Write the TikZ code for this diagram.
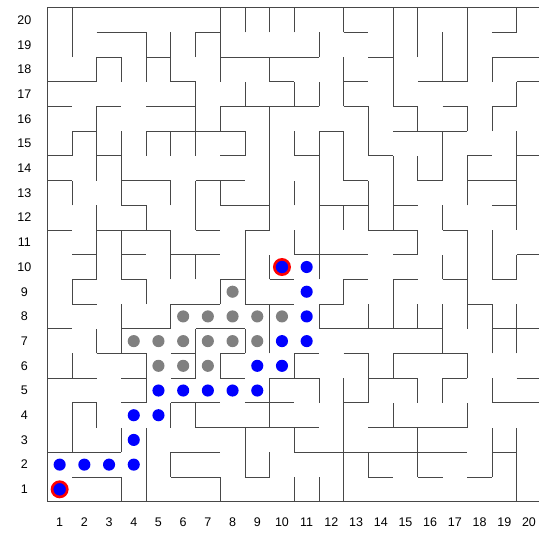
\documentclass[tikz,border=0pt]{standalone}
\usepackage{fontspec}
\setmainfont{Liberation Sans}
\begin{document}
\begin{tikzpicture}[x=24.7pt, y=24.7pt,
  wall/.style={black!72, line width=0.8pt},
  lbl/.style={font=\fontsize{12.5}{14}\selectfont, inner sep=0pt},
  path dot/.style={fill=blue},
  seen dot/.style={fill=gray}]
\useasboundingbox (-1.915,-1.267) rectangle (19.906,20.31);
\draw[wall] (0,0) rectangle (20,20);

% horizontal walls
\foreach \y/\a/\b in {19/2/4, 19/6/7, 19/12/13, 19/18/19,
  18/2/3, 18/4/5, 18/7/11, 18/13/14, 18/18/20,
  17/0/2, 17/5/6, 17/9/10, 17/12/13, 17/15/17, 17/19/20,
  16/0/1, 16/2/3, 16/4/6, 16/7/11, 16/12/13, 16/14/15, 16/16/17, 16/18/19,
  15/1/2, 15/4/8, 15/11/12, 15/14/17,
  14/0/1, 14/2/3, 14/7/8, 14/10/11, 14/13/14, 14/17/18, 14/19/20,
  13/0/1, 13/3/5, 13/6/8, 13/12/13, 13/15/16, 13/17/19,
  12/3/4, 12/7/9, 12/11/13, 12/14/15, 12/18/19,
  11/0/1, 11/2/5, 11/6/7, 11/8/9, 11/13/15, 11/16/17,
  10/1/2, 10/3/4, 10/5/7, 10/10/13, 10/14/15, 10/19/20,
  9/1/2, 9/3/4, 9/7/8, 9/9/10, 9/12/13, 9/14/15, 9/16/17, 9/18/19,
  8/1/2, 8/5/7, 8/8/10, 8/11/12, 8/17/18,
  7/0/1, 7/3/5, 7/6/8, 7/11/16, 7/18/20,
  6/2/4, 6/5/6, 6/7/8, 6/10/11, 6/12/13, 6/14/17,
  5/0/2, 5/3/4, 5/5/6, 5/7/8, 5/9/11, 5/13/15, 5/16/17, 5/19/20,
  4/1/2, 4/3/4, 4/5/7, 4/8/10, 4/12/13, 4/18/20,
  3/6/11, 3/13/17,
  2/0/3, 2/5/7, 2/10/17, 2/18/19,
  1/1/3, 1/5/7, 1/8/9, 1/13/14, 1/15/16, 1/17/18}
  \draw[wall] (\a,\y) -- (\b,\y);

% vertical walls
\foreach \x/\a/\b in {1/18/20, 1/14/15, 1/12/13, 1/8/9, 1/5/6, 1/2/4,
  2/17/18, 2/13/16, 2/9/12, 2/6/7, 2/3/4,
  3/17/18, 3/12/15, 3/9/11, 3/6/8, 3/2/3, 3/0/1,
  4/17/19, 4/14/15, 4/11/12, 4/8/9, 4/4/6, 4/0/3,
  5/17/19, 5/14/15, 5/12/13, 5/9/11, 5/7/8, 5/3/4, 5/1/2,
  6/18/19, 6/14/17, 6/11/13, 6/9/10, 6/5/7, 6/3/4,
  7/17/20, 7/15/16, 7/12/13, 7/8/9, 7/5/6, 7/0/1,
  8/19/20, 8/16/17, 8/14/15, 8/8/11, 8/6/7, 8/1/3,
  9/19/20, 9/17/18, 9/11/16, 9/9/10, 9/6/8, 9/3/5, 9/1/2,
  10/19/20, 10/16/17, 10/14/15, 10/12/13, 10/10/11, 10/5/6, 10/2/3, 10/0/1,
  11/18/19, 11/16/17, 11/9/15, 11/7/8, 11/4/5, 11/0/1,
  12/19/20, 12/16/18, 12/13/15, 12/11/12, 12/8/9, 12/0/5,
  13/14/16, 13/11/13, 13/7/8, 13/4/6, 13/1/2,
  14/16/20, 14/11/14, 14/7/9, 14/5/6, 14/3/4,
  15/18/20, 15/15/16, 15/13/14, 15/10/11, 15/7/8, 15/4/5, 15/1/3,
  16/17/19, 16/13/15, 16/11/12, 16/9/10, 16/6/8, 16/4/5,
  17/17/20, 17/15/16, 17/12/14, 17/7/11, 17/5/6, 17/3/4,
  18/17/18, 18/15/16, 18/9/11, 18/6/8, 18/4/5, 18/1/3,
  19/19/20, 19/16/17, 19/11/15, 19/9/10, 19/6/8, 19/0/3}
  \draw[wall] (\x,\a) -- (\x,\b);

% axis numbers
\foreach \i in {1,...,20} {
  \node[lbl] (col\i) at (\i-0.5,-0.82) {\i};
  \node[lbl] (row\i) at (-0.93,\i-0.5) {\i};
}

% explored cells
\foreach \i/\j in {4/7, 5/7, 6/7, 7/7, 8/7, 9/7, 5/6, 6/6, 7/6,
  6/8, 7/8, 8/8, 9/8, 10/8, 8/9}
  \path[seen dot] (\i-0.5,\j-0.5) circle (0.245);

% solution path
\foreach \i/\j in {1/2, 2/2, 3/2, 4/2, 4/3, 4/4, 5/4, 5/5, 6/5, 7/5, 8/5, 9/5,
  9/6, 10/6, 10/7, 11/7, 11/8, 11/9, 11/10}
  \path[path dot] (\i-0.5,\j-0.5) circle (0.245);

% start and goal
\foreach \i/\j in {1/1, 10/10}
  \filldraw[fill=blue, draw=red, line width=2.6pt] (\i-0.5,\j-0.5) circle (0.31);
\end{tikzpicture}
\end{document}
